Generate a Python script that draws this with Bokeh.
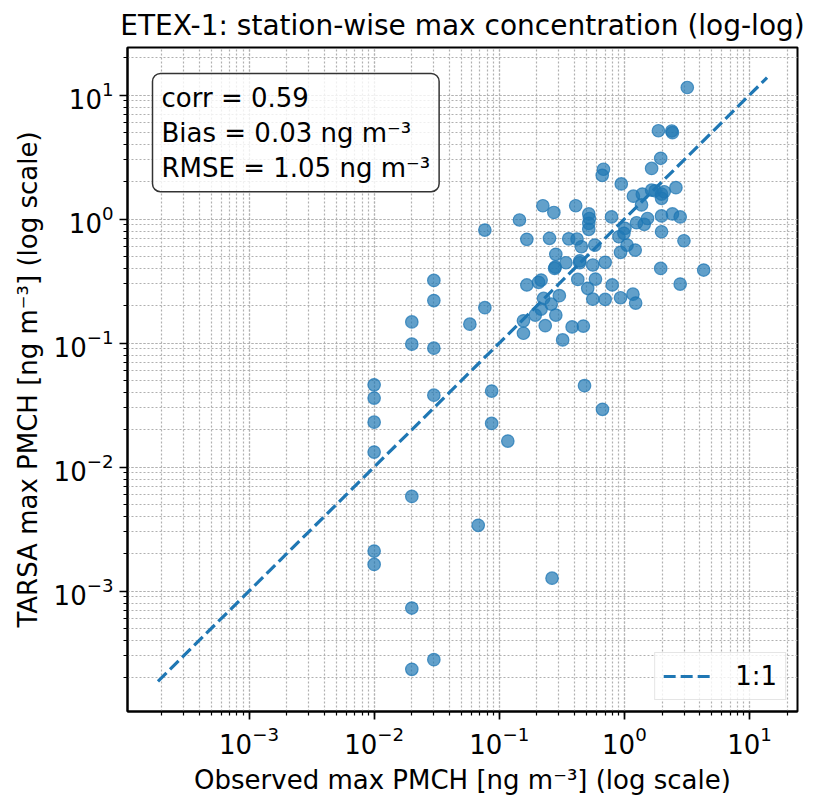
import numpy as np
from bokeh.plotting import figure
from bokeh.models import Range1d, Label
from bokeh.embed import file_html
from bokeh.resources import INLINE

# Station-wise maximum PMCH concentrations [ng m^-3]
observed = [
    3.18, 1.87, 2.39, 2.42, 1.95, 1.65, 0.68, 0.665, 0.944, 1.18,
    1.39, 1.65, 1.76, 1.98, 1.98, 2.08, 2.58, 1.37, 0.223, 0.273,
    0.408, 0.519, 0.525, 0.519, 0.519, 0.789, 1.25, 1.44, 1.53, 1.98,
    2.42, 2.79, 1.98, 2.99, 0.0767, 0.145, 0.166, 0.252, 0.359, 0.418,
    0.453, 0.580, 1.01, 0.904, 1.05, 1.22, 0.931, 0.991, 0.283, 0.341,
    0.439, 0.559, 0.702, 0.277, 0.424, 0.587, 0.799, 0.509, 0.166, 0.206,
    0.216, 0.302, 0.226, 0.260, 0.216, 0.194, 0.283, 0.559, 0.702, 0.931,
    1.17, 1.23, 1.95, 2.79, 4.30, 0.0767, 0.0582, 0.156, 0.156, 0.233,
    0.382, 0.470, 0.321, 0.480, 0.0869, 0.668, 0.0869, 0.117, 0.0679, 0.264,
    0.03, 0.03, 0.02, 0.02, 0.03, 0.01, 0.01, 0.01, 0.03, 0.01,
    0.02, 0.01, 0.01, 0.02, 0.02, 0.03, 0.28, 0.44,
]
tarsa = [
    11.5, 5.15, 5.13, 4.97, 3.09, 2.56, 2.52, 2.25, 1.92, 1.53,
    1.59, 1.71, 1.69, 1.59, 1.47, 1.66, 1.79, 1.30, 1.28, 1.13,
    1.28, 1.10, 1.01, 0.923, 0.826, 1.04, 0.934, 0.906, 1.01, 1.06,
    1.10, 1.04, 0.790, 0.668, 0.815, 0.982, 0.686, 0.699, 0.693, 0.690,
    0.598, 0.617, 0.841, 0.720, 0.617, 0.562, 0.539, 0.767, 0.519, 0.444,
    0.444, 0.426, 0.448, 0.400, 0.326, 0.328, 0.294, 0.276, 0.294, 0.309,
    0.322, 0.241, 0.229, 0.206, 0.188, 0.168, 0.168, 0.226, 0.225, 0.232,
    0.248, 0.210, 0.400, 0.299, 0.388, 0.193, 0.142, 0.151, 0.120, 0.138,
    0.135, 0.137, 0.106, 0.0453, 0.0410, 0.0292, 0.0225, 0.0162, 0.00339, 0.00127,
    0.32, 0.22, 0.148, 0.098, 0.091, 0.046, 0.036, 0.023, 0.038, 0.0132,
    0.0058, 0.0021, 0.00164, 0.00073, 0.000234, 0.00028, 0.41, 0.46,
]

stats_lines = ["corr = 0.59", "Bias = 0.03 ng m\u207b\u00b3", "RMSE = 1.05 ng m\u207b\u00b3"]

FONT = "DejaVu Sans"
BLUE = "#1f77b4"

# 1:1 reference line spanning all values, axes padded by 5% in log space
all_vals = np.array(observed + tarsa)
lo, hi = all_vals.min() * 0.8, all_vals.max() * 1.2
llo, lhi = np.log10(lo), np.log10(hi)
pad = 0.05 * (lhi - llo)
rng = (10 ** (llo - pad), 10 ** (lhi + pad))

p = figure(
    width=828, height=804,
    x_axis_type="log", y_axis_type="log",
    x_range=Range1d(*rng), y_range=Range1d(*rng),
    title="ETEX-1: station-wise max concentration (log-log)",
    output_backend="svg", toolbar_location=None,
)
p.min_border_left = 127
p.min_border_right = 31
p.min_border_top = 47
p.min_border_bottom = 93

p.title.text_font = FONT
p.title.text_font_size = "28px"
p.title.text_font_style = "normal"
p.title.text_color = "black"
p.title.align = "center"
p.title.standoff = 12

p.outline_line_color = "black"
p.outline_line_width = 2
p.outline_line_alpha = 1.0

for ax in (p.xaxis, p.yaxis):
    ax.axis_line_color = "black"
    ax.axis_line_width = 2
    ax.major_tick_out = 8
    ax.major_tick_in = 0
    ax.minor_tick_out = 4
    ax.minor_tick_in = 0
    ax.major_tick_line_width = 1.7
    ax.minor_tick_line_width = 1.2
    ax.major_tick_line_color = "black"
    ax.minor_tick_line_color = "black"
    ax.major_label_text_font = FONT
    ax.major_label_text_font_size = "26px"
    ax.major_label_text_color = "black"
    ax.major_label_standoff = 6
    ax.axis_label_text_font = FONT
    ax.axis_label_text_font_size = "26px"
    ax.axis_label_text_font_style = "normal"
    ax.axis_label_text_color = "black"
    ax.axis_label_standoff = 8

p.xaxis.axis_label = "Observed max PMCH [ng m\u207b\u00b3] (log scale)"
p.yaxis.axis_label = "TARSA max PMCH [ng m\u207b\u00b3] (log scale)"

for g in (p.xgrid, p.ygrid):
    g.grid_line_color = "#b0b0b0"
    g.grid_line_dash = "2 2"
    g.grid_line_width = 1.2
    g.minor_grid_line_color = "#b0b0b0"
    g.minor_grid_line_dash = "2 2"
    g.minor_grid_line_width = 1.2

p.scatter(observed, tarsa, size=12.5, marker="circle",
          fill_color=BLUE, fill_alpha=0.7, line_color=BLUE, line_alpha=0.75, line_width=1.2)

p.line([lo, hi], [lo, hi], line_color=BLUE, line_width=3.2, line_dash="12 5",
       legend_label="1:1")

p.legend.location = "bottom_right"
p.legend.label_text_font = FONT
p.legend.label_text_font_size = "26px"
p.legend.label_text_color = "black"
p.legend.glyph_width = 50
p.legend.glyph_height = 26
p.legend.label_standoff = 22
p.legend.padding = 8
p.legend.margin = 11
p.legend.border_line_color = "#cccccc"
p.legend.border_line_width = 1.5
p.legend.background_fill_alpha = 0.8

stats = Label(
    x=25, y=638, x_units="screen", y_units="screen",
    text="\n".join(stats_lines),
    text_font=FONT, text_font_size="26px", text_color="black",
    text_align="left", text_baseline="top", text_line_height=1.17,
    background_fill_color="white", background_fill_alpha=0.8,
    border_line_color="#333333", border_line_width=1.5,
    padding=9, border_radius=8,
)
p.add_layout(stats)

open("out.html", "w").write(file_html(p, INLINE))
